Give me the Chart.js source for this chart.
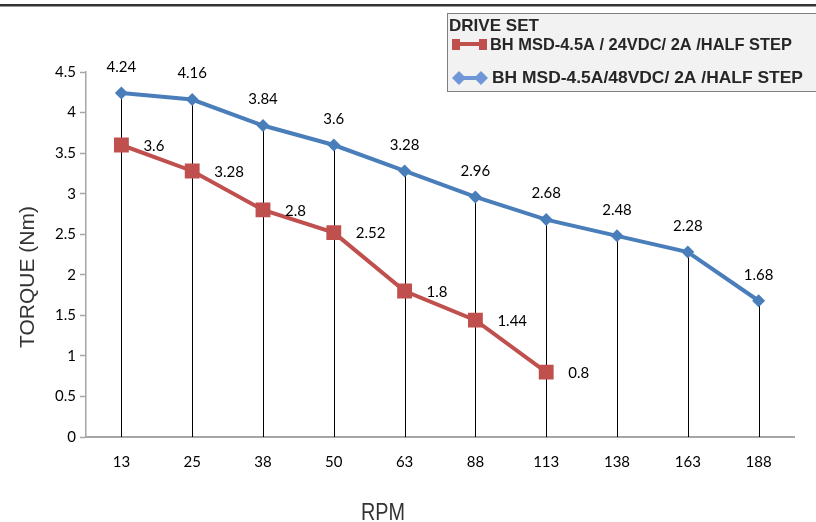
<!DOCTYPE html>
<html><head><meta charset="utf-8">
<script src="https://cdn.jsdelivr.net/npm/chart.js@4.4.1/dist/chart.umd.min.js"></script>
<style>html,body{margin:0;padding:0;background:#fff;}canvas{display:block;}</style>
</head><body>
<canvas id="c" width="816" height="522"></canvas>
<script>
const categories = ['13','25','38','50','63','88','113','138','163','188'];
const series24Name = 'BH MSD-4.5A / 24VDC/ 2A /HALF STEP';
const series48Name = 'BH MSD-4.5A/48VDC/ 2A /HALF STEP';
const series24 = [3.6, 3.28, 2.8, 2.52, 1.8, 1.44, 0.8, null, null, null];
const series48 = [4.24, 4.16, 3.84, 3.6, 3.28, 2.96, 2.68, 2.48, 2.28, 1.68];
const yTicks = [0, 0.5, 1, 1.5, 2, 2.5, 3, 3.5, 4, 4.5];
const legendTitle = 'DRIVE SET';
const xTitle = 'RPM';
const yTitle = 'TORQUE (Nm)';

const RED = '#c0504d', BLUE = '#4a7ebb';
const tickFont = {family: 'Lato', size: 15};

function fitText(ctx, text, x, y, w) {
  const m = ctx.measureText(text).width;
  ctx.save();
  ctx.translate(x, y);
  ctx.scale(w / m, 1);
  ctx.fillText(text, 0, 0);
  ctx.restore();
}

const decor = {
  id: 'decor',
  beforeDraw(chart) {
    const ctx = chart.ctx;
    ctx.save();
    ctx.fillStyle = '#fff';
    ctx.fillRect(0, 0, chart.width, chart.height);
    ctx.fillStyle = '#333';
    ctx.fillRect(0, 4, chart.width, 2.5);
    ctx.restore();
  },
  beforeDatasetsDraw(chart) {
    const ctx = chart.ctx, xs = chart.scales.x, ys = chart.scales.y;
    ctx.save();
    ctx.strokeStyle = '#000';
    ctx.lineWidth = 1;
    categories.forEach((c, i) => {
      const top = Math.max(series48[i] ?? 0, series24[i] ?? 0);
      const x = Math.round(xs.getPixelForValue(i)) + 0.5;
      ctx.beginPath();
      ctx.moveTo(x, ys.getPixelForValue(top));
      ctx.lineTo(x, ys.getPixelForValue(0));
      ctx.stroke();
    });
    ctx.restore();
  },
  afterDatasetsDraw(chart) {
    const ctx = chart.ctx, xs = chart.scales.x, ys = chart.scales.y;
    ctx.save();
    ctx.fillStyle = '#000';
    ctx.font = '15px Lato';
    ctx.textBaseline = 'middle';
    ctx.textAlign = 'center';
    series48.forEach((v, i) => {
      if (v == null) return;
      ctx.fillText(String(v), xs.getPixelForValue(i), ys.getPixelForValue(v) - 26);
    });
    ctx.textAlign = 'left';
    series24.forEach((v, i) => {
      if (v == null) return;
      ctx.fillText(String(v), xs.getPixelForValue(i) + 22, ys.getPixelForValue(v) + 1);
    });
    // axis titles
    ctx.fillStyle = '#333';
    ctx.font = '24px "Liberation Sans"';
    ctx.textAlign = 'left';
    ctx.textBaseline = 'alphabetic';
    fitText(ctx, xTitle, 361, 520, 44);
    ctx.textBaseline = 'middle';
    ctx.save();
    ctx.translate(28, 277);
    ctx.rotate(-Math.PI / 2);
    ctx.textAlign = 'center';
    ctx.font = '21px "Liberation Sans"';
    ctx.fillText(yTitle, 0, 0);
    ctx.restore();

    // legend
    ctx.fillStyle = '#f2f2f2';
    ctx.fillRect(447.5, 13.5, 380, 78);
    ctx.strokeStyle = '#7f7f7f';
    ctx.lineWidth = 1;
    ctx.strokeRect(447.5, 13.5, 380, 78);
    ctx.fillStyle = '#262626';
    ctx.textAlign = 'left';
    ctx.font = 'bold 17px "Liberation Sans"';
    fitText(ctx, legendTitle, 449, 26, 90);
    fitText(ctx, series24Name, 490, 45, 302);
    fitText(ctx, series48Name, 492, 78, 311);
    // red legend marker
    ctx.strokeStyle = RED; ctx.fillStyle = RED; ctx.lineWidth = 4;
    ctx.beginPath(); ctx.moveTo(455, 44); ctx.lineTo(484, 44); ctx.stroke();
    ctx.fillRect(452, 39, 8, 11);
    ctx.fillRect(479, 39, 8, 11);
    // blue legend marker
    ctx.strokeStyle = '#6f96d6'; ctx.fillStyle = '#6f96d6';
    ctx.beginPath(); ctx.moveTo(458, 78); ctx.lineTo(482, 78); ctx.stroke();
    [459, 481].forEach(cx => {
      ctx.beginPath();
      ctx.moveTo(cx, 71); ctx.lineTo(cx + 7, 78); ctx.lineTo(cx, 85); ctx.lineTo(cx - 7, 78); ctx.closePath();
      ctx.fill();
    });
    ctx.restore();
  }
};

new Chart(document.getElementById('c'), {
  type: 'line',
  data: {
    labels: categories,
    datasets: [
      {label: series24Name, data: series24, borderColor: RED, backgroundColor: RED,
       borderWidth: 4, pointStyle: 'rect', pointRadius: 10.5, pointHoverRadius: 10.5,
       pointBorderWidth: 0, spanGaps: false, tension: 0},
      {label: series48Name, data: series48, borderColor: BLUE, backgroundColor: BLUE,
       borderWidth: 4, pointStyle: 'rectRot', pointRadius: 6.5, pointHoverRadius: 6.5,
       pointBorderWidth: 0, tension: 0}
    ]
  },
  options: {
    responsive: false,
    animation: false,
    devicePixelRatio: 1,
    layout: {padding: {top: 72, right: 22, left: 0, bottom: 0}},
    plugins: {legend: {display: false}, tooltip: {enabled: false}},
    scales: {
      x: {
        offset: true,
        grid: {display: false, drawTicks: false},
        border: {color: '#a6a6a6', width: 2},
        ticks: {font: tickFont, color: '#000', padding: 16, maxRotation: 0},
        afterFit(s) { s.height = 85; }
      },
      y: {
        min: 0, max: 4.5,
        afterBuildTicks(s) { s.ticks = yTicks.map(v => ({value: v})); },
        grid: {drawOnChartArea: false, color: '#a6a6a6', tickLength: 6, tickWidth: 1.5},
        border: {color: '#a6a6a6', width: 1.5},
        ticks: {font: tickFont, color: '#000', padding: 4, callback: v => String(v)},
        afterFit(s) { s.width = 86; }
      }
    }
  },
  plugins: [decor]
});
</script>
</body></html>
